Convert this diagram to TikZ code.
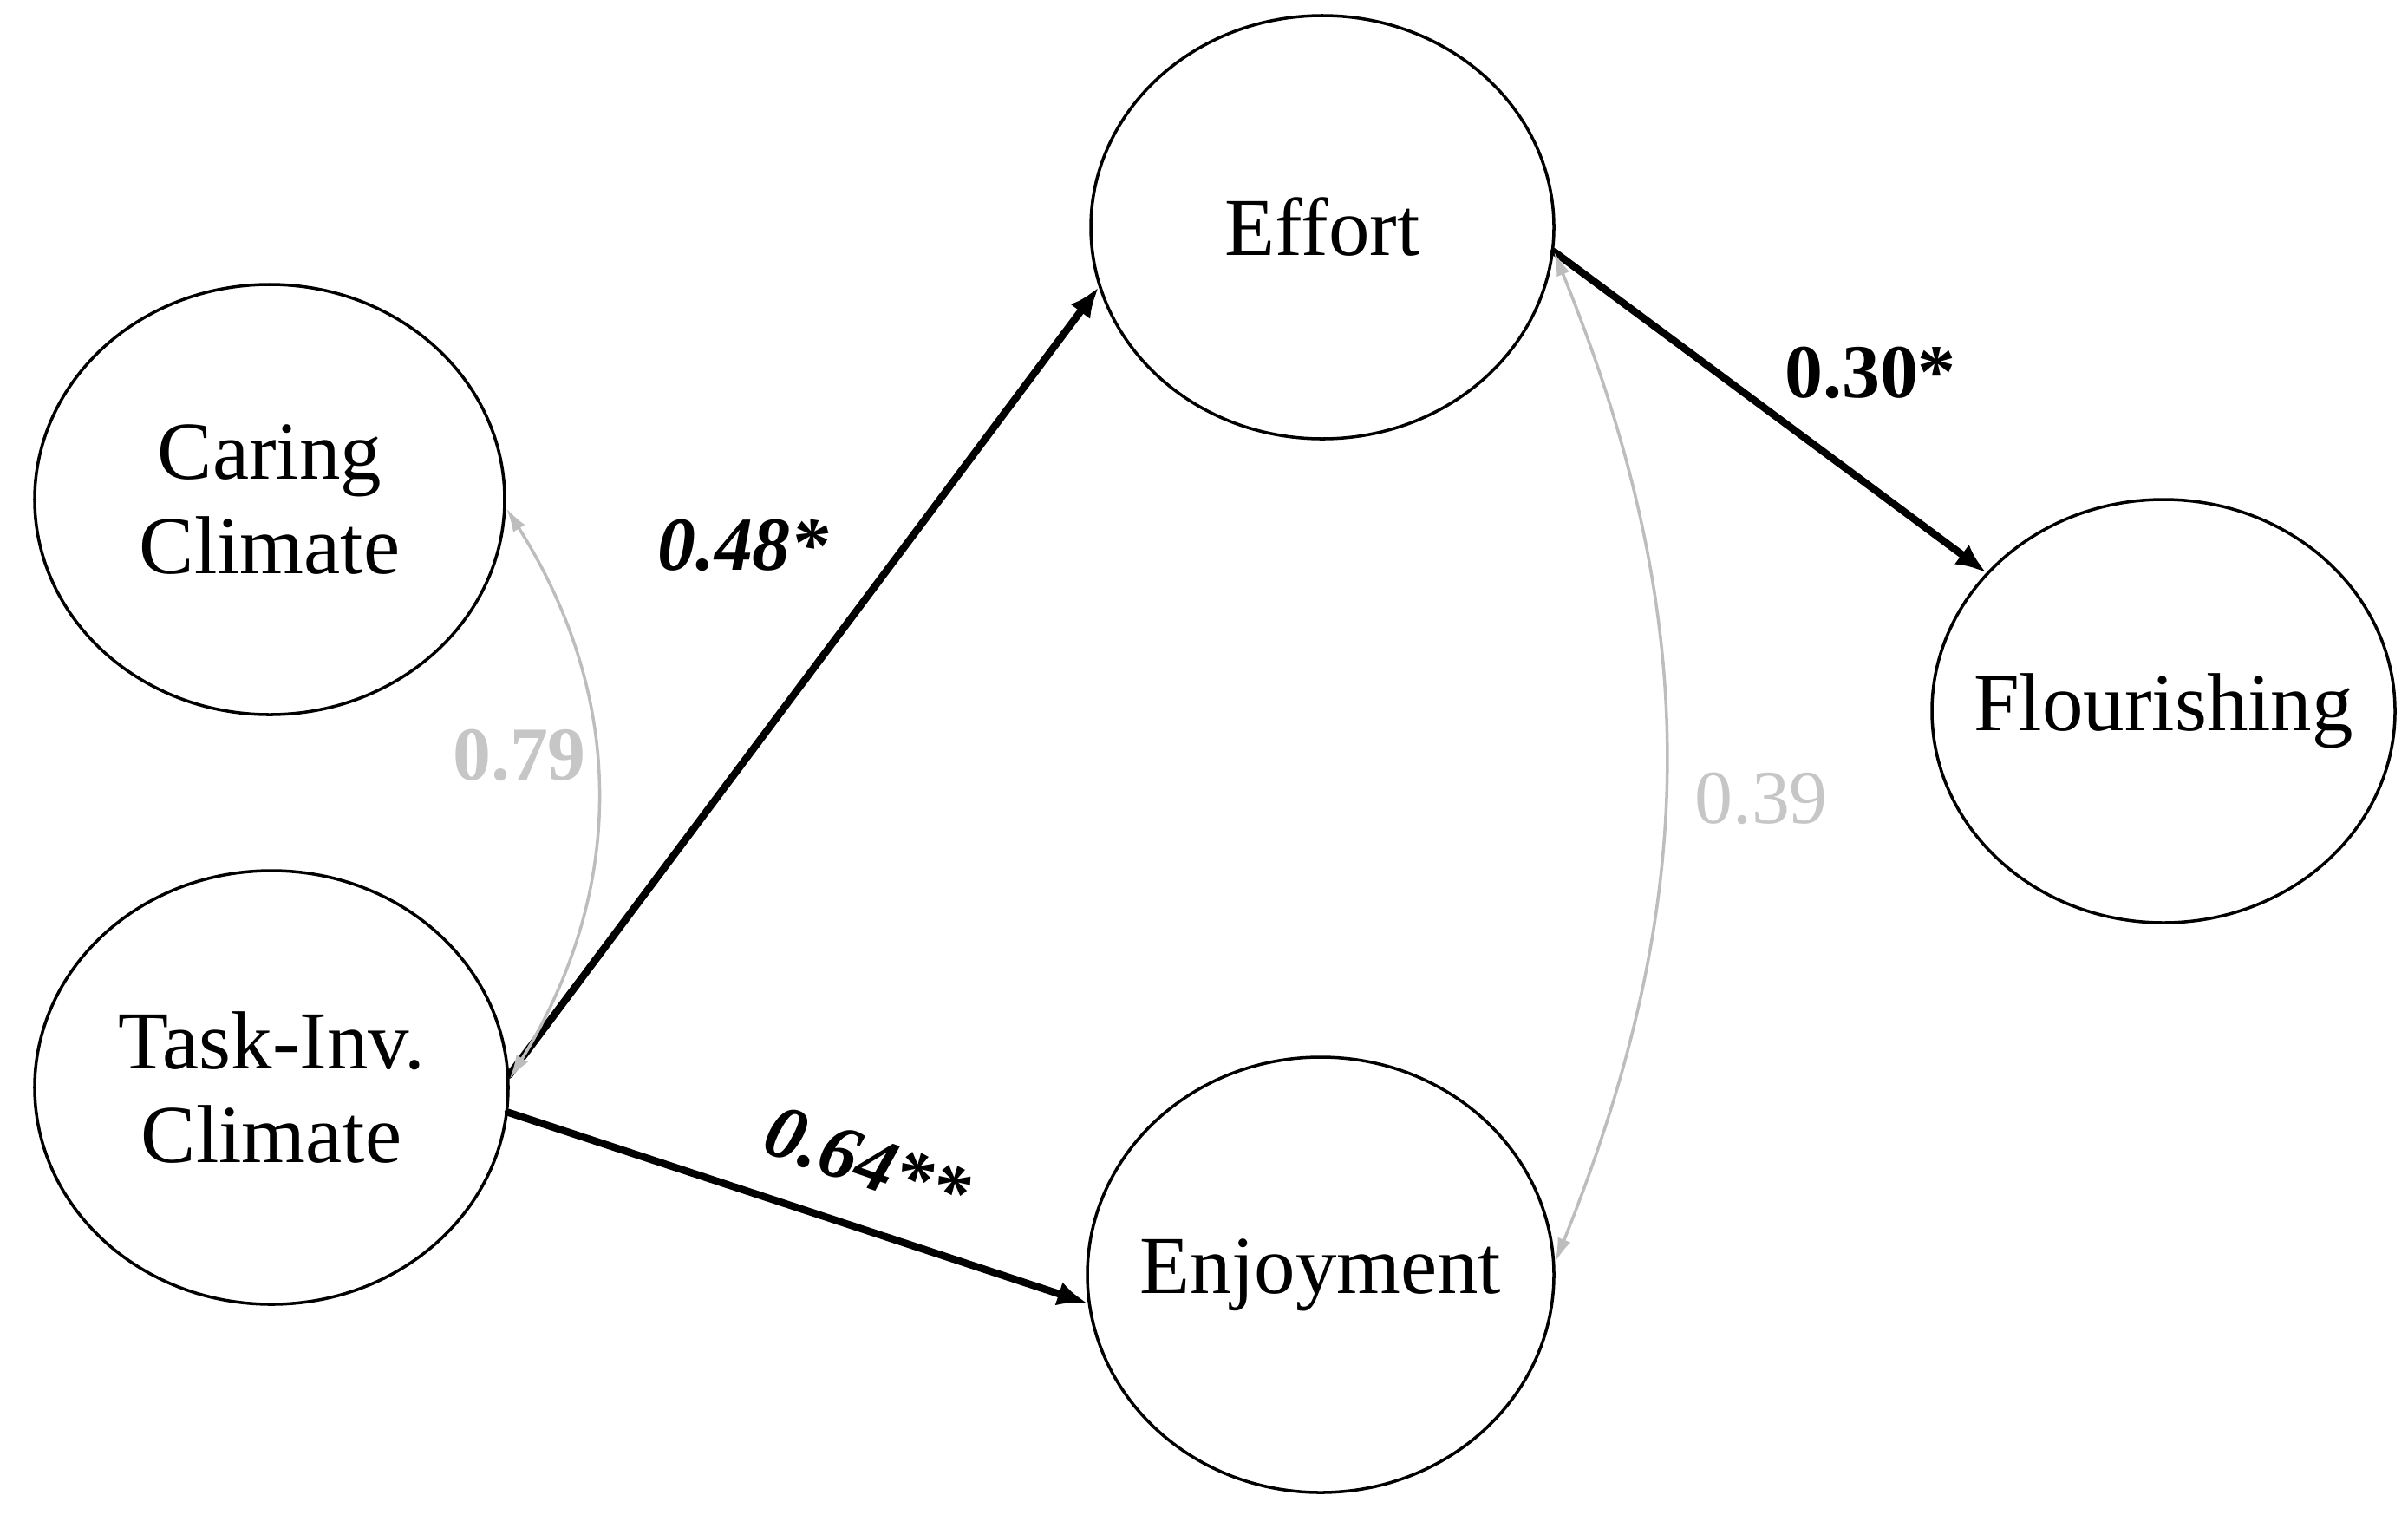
\documentclass[tikz,border=0pt]{standalone}
\usepackage{fontspec}
\setmainfont{Liberation Serif}
\usetikzlibrary{arrows.meta, shapes.geometric, positioning, calc}
\definecolor{pathblack}{HTML}{000000}
\definecolor{corrgrey}{HTML}{BDBDBD}
\definecolor{corrtext}{HTML}{C6C6C6}

\tikzset{
  latent/.style={draw, ellipse, line width=1pt, inner xsep=-0.6cm, inner ysep=0pt,
    minimum width=5.34cm, minimum height=4.88cm, align=center,
    font=\fontsize{27pt}{31pt}\selectfont},
  regpath/.style={-{Latex[length=10pt,width=8pt]}, line width=2.4pt, draw=pathblack},
  corrpath/.style={{Latex[length=8pt,width=4.5pt]}-{Latex[length=8pt,width=4.5pt]},
    line width=1pt, draw=corrgrey},
  coef/.style={font=\fontsize{25pt}{28pt}\selectfont\bfseries, inner sep=0pt},
  corrcoef/.style={coef, text=corrtext}
}

\begin{document}
\begin{tikzpicture}[line cap=round, line join=round]
      \useasboundingbox (0,0) rectangle (27.77,-17.46);

      % Climas (izquierda)
      \node[latent, minimum width=5.42cm, minimum height=4.96cm] (Caring) at (3.11,-5.76) {Caring\\Climate};
      \node[latent, minimum width=5.46cm, minimum height=5.0cm] (Task) at (3.13,-12.54) {Task-Inv.\\Climate};

      % Mediadores (centro)
      \node[latent] (Effort) at (15.25,-2.62) {Effort};
      \node[latent, minimum width=5.38cm, minimum height=5.02cm] (Enjoy) at (15.23,-14.70) {Enjoyment};

      % Resultado (derecha)
      \node[latent] (Flour) at (24.95,-8.20) {Flourishing};

      % Caminos directos
      \draw[regpath] (Task.3) -- (Effort.195);
      \draw[regpath] (Task.354) -- (Enjoy.187);
      \draw[regpath] (Effort.354) -- (Flour.142);

      % Covarianzas
      \draw[corrpath] (Caring.358) to[bend left=32] (Task.2);
      \draw[corrpath] (Effort.354) to[bend left=22] (Enjoy.3);

      % Coeficientes
      \node[coef, font=\fontsize{25pt}{28pt}\selectfont\bfseries\itshape] (w48) at (8.57,-6.29) {0.48*};
      \node[coef, font=\fontsize{25pt}{28pt}\selectfont\bfseries\itshape, rotate=-19] (w64) at (10.0,-13.40) {0.64**};
      \node[coef] (w30) at (21.57,-4.30) {0.30*};
      \node[corrcoef] (c79) at (5.99,-8.71) {0.79};
      \node[corrcoef, font=\fontsize{25pt}{28pt}\selectfont] (c39) at (20.31,-9.21) {0.39};
\end{tikzpicture}
\end{document}
